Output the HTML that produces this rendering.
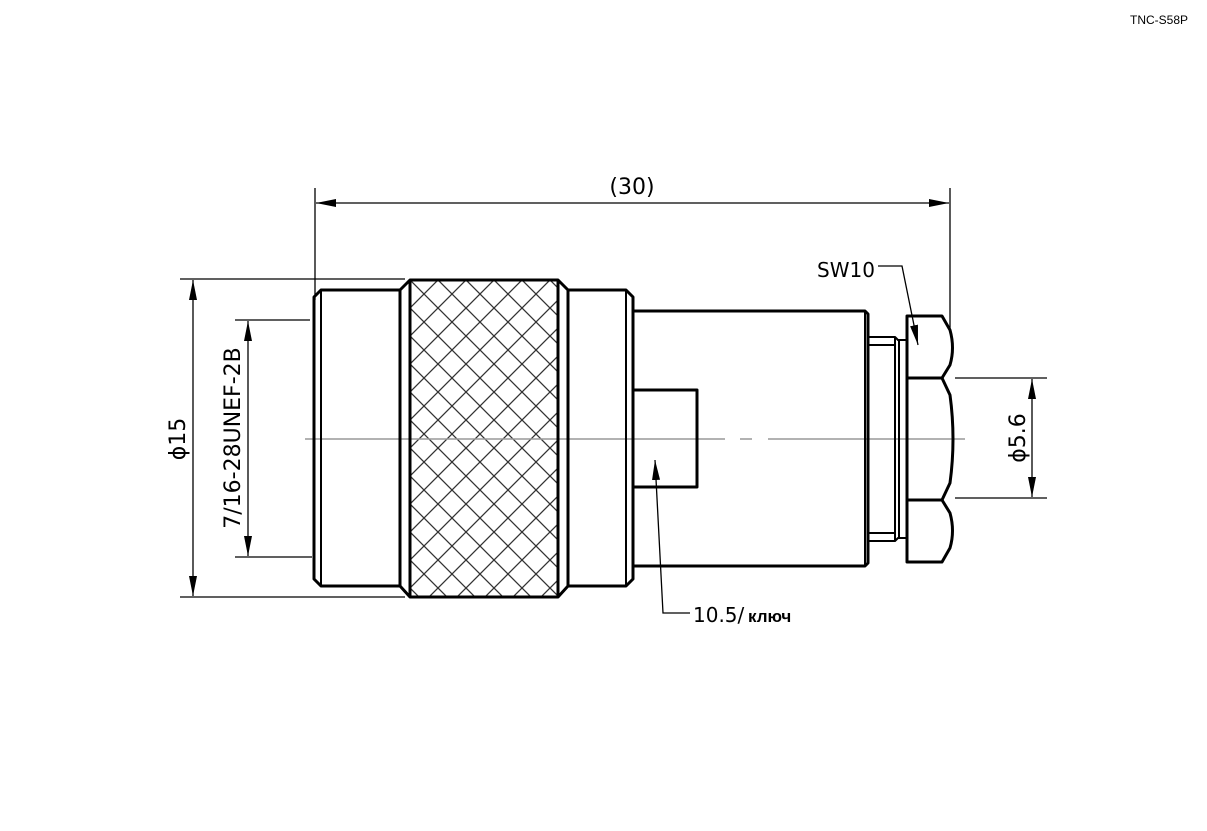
<!DOCTYPE html>
<html><head><meta charset="utf-8"><style>
html,body{margin:0;padding:0;background:#fff;}
svg{display:block}
text{font-family:"DejaVu Sans","Liberation Sans",sans-serif;fill:#000}
</style></head><body>
<svg width="1207" height="831" viewBox="0 0 1207 831" xmlns="http://www.w3.org/2000/svg">
<defs>
<marker id="a" viewBox="0 0 20 8" refX="20" refY="4" markerWidth="20" markerHeight="8" markerUnits="userSpaceOnUse" orient="auto-start-reverse"><path d="M0,0 L20,4 L0,8 z" fill="#000"/></marker>
<clipPath id="k"><rect x="410" y="280" width="148" height="317"/></clipPath>
<pattern id="h" width="28" height="28" patternUnits="userSpaceOnUse" x="410" y="280">
<path d="M0,0 L28,28 M28,0 L0,28 M-14,14 L14,42 M14,-14 L42,14 M-14,14 L14,-14 M14,42 L42,14" stroke="#333" stroke-width="1.3" fill="none"/>
</pattern>
</defs>
<text x="1130" y="24" font-size="12" style="font-family:'Liberation Sans',sans-serif">TNC-S58P</text>

<rect x="410" y="280" width="148" height="317" fill="url(#h)"/>

<!-- centerline -->
<path d="M305,439 H725 M740,439 H752 M768,439 H965" stroke="#999" stroke-width="1.5" fill="none"/>

<g stroke="#000" stroke-width="3" fill="none" stroke-linejoin="round">
<path d="M321,290 H400 V586 H321 L314,579 V297 Z"/>
<path d="M321,290 V586" stroke-width="2"/>
<path d="M400,290 L410,280 H558 L568,290 V586 L558,597 H410 L400,586"/>
<path d="M410,280 V597 M558,280 V597" />
<path d="M568,290 H626 L633,297 V579 L626,586 H568"/>
<path d="M626,290 V586" stroke-width="2"/>
<path d="M633,311 H865 L868,314 V563 L865,566 H633"/>
<path d="M865,311 V566" stroke-width="2"/>
<path d="M633,390 H697 V487 H633"/>
<path d="M868,337 H895 L898,340 H906 M868,541 H895 L898,538 H906 M868,345 H895 M868,533 H895" stroke-width="2"/>
<path d="M895,337 V541 M899,340 V538" stroke-width="2"/>
<path d="M907,316 H942 L950,330 Q955,348 950,365 L942,378 H907 Z"/>
<path d="M907,378 H942 L950,395 Q956,439 950,483 L942,500 H907 Z"/>
<path d="M907,500 H942 L950,513 Q955,531 950,548 L942,562 H907 Z"/>
</g>

<g stroke="#000" stroke-width="1.3" fill="none">
<path d="M315,188 V300 M950,188 V330"/>
<path d="M316,203 H949" marker-start="url(#a)" marker-end="url(#a)"/>
<path d="M180,279 H405 M180,597 H405"/>
<path d="M193,280 V596" marker-start="url(#a)" marker-end="url(#a)"/>
<path d="M235,320 H310 M235,557 H312"/>
<path d="M248,321 V556" marker-start="url(#a)" marker-end="url(#a)"/>
<path d="M955,378 H1047 M955,498 H1047"/>
<path d="M1032,379 V497" marker-start="url(#a)" marker-end="url(#a)"/>
<path d="M878,266 H902 L918,345" marker-end="url(#a)"/>
<path d="M690,613 H663 L655,460" marker-end="url(#a)"/>
</g>

<text x="632" y="194" font-size="22" text-anchor="middle">(30)</text>
<text transform="translate(185,439) rotate(-90)" font-size="22" text-anchor="middle">ϕ15</text>
<text transform="translate(240,438) rotate(-90)" font-size="22" text-anchor="middle">7/16-28UNEF-2B</text>
<text transform="translate(1025,438) rotate(-90)" font-size="22" text-anchor="middle">ϕ5.6</text>
<text x="817" y="277" font-size="20">SW10</text>
<text x="693" y="622" font-size="20">10.5/</text><text x="748" y="622" font-size="17" style="font-family:'Liberation Sans',sans-serif;font-weight:bold">ключ</text>
</svg>
</body></html>
